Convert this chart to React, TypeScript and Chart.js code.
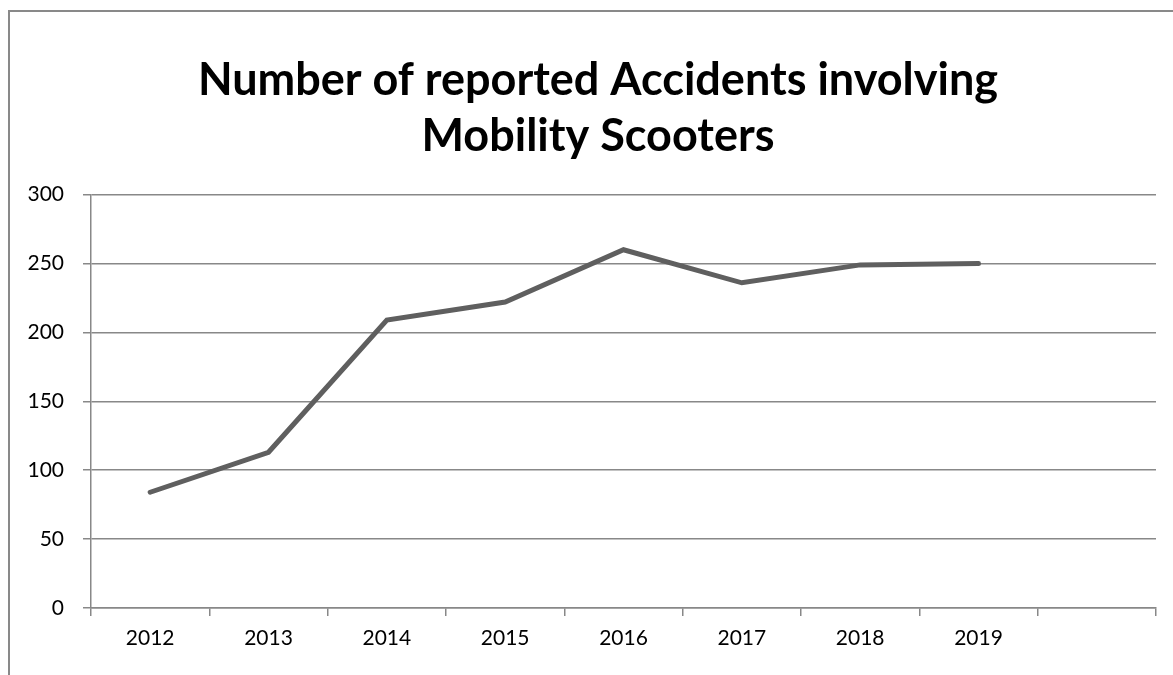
import React, { useEffect, useRef } from "react";
import { Chart, registerables } from "chart.js";

Chart.register(...registerables);

const categories: string[] = ["2012", "2013", "2014", "2015", "2016", "2017", "2018", "2019", ""];
const accidents: number[] = [84, 113, 209, 222, 260, 236, 249, 250];
const titleLines: string[] = ["Number of reported Accidents involving", "Mobility Scooters"];
const yTicks = { min: 0, max: 300, step: 50 };

// The source chart's frame is wider than the visible picture, so its title
// is centred a little right of the plot centre.
const titleShift = {
  id: "titleShift",
  afterLayout(chart: any) {
    const t = chart.titleBlock;
    if (t) {
      t.left += 40;
    }
  },
};

export default function App() {
  const canvasRef = useRef<HTMLCanvasElement | null>(null);

  useEffect(() => {
    if (!canvasRef.current) return;
    const chart = new Chart(canvasRef.current, {
      type: "line",
      data: {
        labels: categories,
        datasets: [
          {
            label: "Accidents",
            data: accidents,
            borderColor: "#5f5f5f",
            backgroundColor: "#5f5f5f",
            borderWidth: 5,
            pointRadius: 0,
            pointHoverRadius: 0,
            tension: 0,
            borderCapStyle: "round",
            borderJoinStyle: "miter",
          },
        ],
      },
      options: {
        animation: false,
        responsive: true,
        maintainAspectRatio: false,
        layout: { padding: { left: 0, right: 17, top: 0, bottom: 0 } },
        plugins: {
          legend: { display: false },
          tooltip: { enabled: false },
          title: {
            display: true,
            text: titleLines,
            color: "#000000",
            font: { family: "Lato", weight: "bold", size: 45, lineHeight: 1.24 },
            padding: { top: 53, bottom: 30 },
          },
        },
        scales: {
          x: {
            offset: true,
            grid: {
              offset: true,
              drawOnChartArea: false,
              drawTicks: true,
              tickLength: 8,
              color: "#888888",
              lineWidth: 1.5,
            },
            border: { display: true, color: "#888888", width: 1.5 },
            ticks: {
              color: "#000000",
              font: { family: "Lato", size: 21 },
              padding: 10,
              maxRotation: 0,
              autoSkip: false,
            },
            afterFit: (scale: any) => {
              scale.height = 67;
            },
          },
          y: {
            min: yTicks.min,
            max: yTicks.max,
            ticks: {
              stepSize: yTicks.step,
              color: "#000000",
              font: { family: "Lato", size: 21 },
              padding: 19,
            },
            grid: {
              color: "#888888",
              lineWidth: 1.5,
              tickLength: 8,
            },
            border: { display: true, color: "#888888", width: 1.5 },
            afterFit: (scale: any) => {
              scale.width = 91;
            },
          },
        },
      },
      plugins: [titleShift],
    });
    return () => chart.destroy();
  }, []);

  return (
    <div
      style={{
        position: "fixed",
        left: 0,
        top: 0,
        width: 1173,
        height: 675,
        background: "#ffffff",
        overflow: "hidden",
      }}
    >
      <div
        style={{
          position: "absolute",
          left: 8,
          top: 10,
          width: 1300,
          height: 800,
          borderLeft: "2px solid #898989",
          borderTop: "2px solid #898989",
          pointerEvents: "none",
        }}
      />
      <div style={{ position: "absolute", left: 0, top: 0, width: 1173, height: 675 }}>
        <canvas ref={canvasRef} />
      </div>
    </div>
  );
}
